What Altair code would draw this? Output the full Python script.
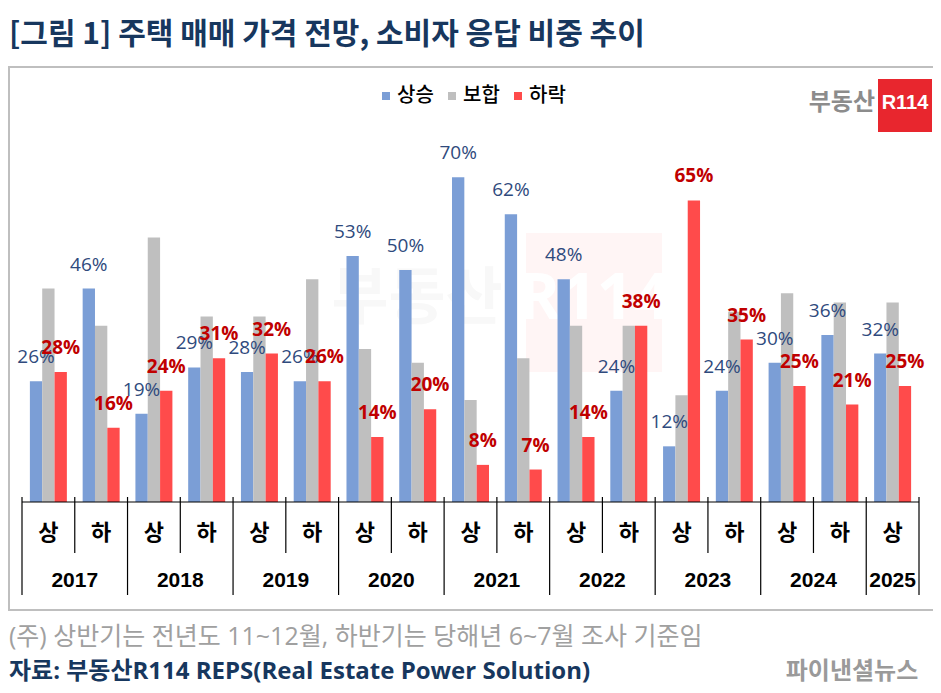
import altair as alt
import pandas as pd

# ---- data ----
years = ["2017", "2017", "2018", "2018", "2019", "2019", "2020", "2020", "2021", "2021",
         "2022", "2022", "2023", "2023", "2024", "2024", "2025"]
halves = ["상", "하", "상", "하", "상", "하", "상", "하", "상", "하",
          "상", "하", "상", "하", "상", "하", "상"]
up = [26, 46, 19, 29, 28, 26, 53, 50, 70, 62, 48, 24, 12, 24, 30, 36, 32]      # 상승
flat = [46, 38, 57, 40, 40, 48, 33, 30, 22, 31, 38, 38, 23, 41, 45, 43, 43]    # 보합
down = [28, 16, 24, 31, 32, 26, 14, 20, 8, 7, 14, 38, 65, 35, 25, 21, 25]      # 하락
series_names = ["상승", "보합", "하락"]
series_colors = ["#7B9ED6", "#BFBFBF", "#FF4B4B"]

title_text = "[그림 1] 주택 매매 가격 전망, 소비자 응답 비중 추이"
note_text = "(주) 상반기는 전년도 11~12월, 하반기는 당해년 6~7월 조사 기준임"
source_text = "자료: 부동산R114 REPS(Real Estate Power Solution)"

periods = [y + h for y, h in zip(years, halves)]

rows = []
for i, p in enumerate(periods):
    for s, vals in zip(series_names, [up, flat, down]):
        rows.append({"period": p, "year": years[i], "half": halves[i],
                     "series": s, "value": vals[i], "label": f"{vals[i]}%"})
df = pd.DataFrame(rows)
cats = pd.DataFrame({"period": periods, "year": years, "half": halves})
one = pd.DataFrame({"a": [0]})

W, H = 897, 348
KR = "Noto Sans CJK KR"
LAT = "Open Sans, Noto Sans CJK KR"

xscale = alt.Scale(domain=periods, paddingInner=0, paddingOuter=0)
offscale = alt.Scale(domain=series_names, paddingInner=0, paddingOuter=0.64)
yscale = alt.Scale(domain=[0, 75])

def X(bp=0.5):
    return alt.X("period:N", scale=xscale, axis=None, sort=periods, bandPosition=bp)

# frame box
box = alt.Chart(one).mark_rect(fill=None, stroke="#BFBFBF", strokeWidth=2).encode(
    x=alt.value(-13), x2=alt.value(913), y=alt.value(-87), y2=alt.value(456))

# faint watermark
wm_rect = alt.Chart(one).mark_rect(fill="#FFF5F5").encode(
    x=alt.value(504), x2=alt.value(640), y=alt.value(79), y2=alt.value(218))
wm_txt1 = alt.Chart(one).mark_text(text="부동산", font=KR, fontSize=62, fontWeight="bold",
                                   color="#F8F8F8", baseline="middle").encode(
    x=alt.value(395), y=alt.value(146))
wm_txt2 = alt.Chart(one).mark_text(text="R114", font=LAT, fontSize=64, fontWeight="bold",
                                   color="#FFFFFF", baseline="middle").encode(
    x=alt.value(572), y=alt.value(146))

bars = alt.Chart(df).mark_bar().encode(
    x=X(),
    xOffset=alt.XOffset("series:N", scale=offscale, sort=series_names),
    y=alt.Y("value:Q", scale=yscale, axis=None),
    color=alt.Color("series:N", sort=series_names,
                    scale=alt.Scale(domain=series_names, range=series_colors),
                    legend=alt.Legend(orient="none", legendX=354, legendY=-68,
                                      direction="horizontal", title=None,
                                      symbolType="square", symbolSize=64,
                                      symbolStrokeWidth=0, labelFontSize=20,
                                      labelFont=KR, labelColor="#000000",
                                      labelFontWeight=500,
                                      labelOffset=1, columnPadding=8)),
)

def value_labels(name, color, weight):
    return alt.Chart(df).transform_filter(alt.datum.series == name).mark_text(
        font=LAT, fontSize=19, fontWeight=weight, color=color,
        baseline="middle", dy=-24).encode(
        x=X(),
        xOffset=alt.XOffset("series:N", scale=offscale, sort=series_names),
        y=alt.Y("value:Q", scale=yscale, axis=None),
        text="label:N")

lab_up = value_labels("상승", "#2F4A7D", 500)
lab_down = value_labels("하락", "#C00000", "bold")

axis_line = alt.Chart(one).mark_rule(color="#000000", strokeWidth=1.2).encode(
    x=alt.value(0), x2=alt.value(W), y=alt.value(H))

short_sep = alt.Chart(cats).transform_filter(alt.datum.half == "하").mark_rule(
    color="#000000", strokeWidth=1.2).encode(
    x=X(0), y=alt.value(H - 5), y2=alt.value(H + 51))
long_sep = alt.Chart(cats).transform_filter(alt.datum.half == "상").mark_rule(
    color="#000000", strokeWidth=1.2).encode(
    x=X(0), y=alt.value(H - 5), y2=alt.value(H + 93))
end_sep = alt.Chart(cats).transform_filter(alt.datum.period == periods[-1]).mark_rule(
    color="#000000", strokeWidth=1.2).encode(
    x=X(1), y=alt.value(H - 5), y2=alt.value(H + 93))

half_lab = alt.Chart(cats).mark_text(font=KR, fontSize=22, fontWeight="bold",
                                     color="#000000", baseline="middle").encode(
    x=X(), y=alt.value(H + 31), text="half:N")
year_lab = alt.Chart(cats).transform_filter(alt.datum.half == "하").mark_text(
    font="Liberation Sans", fontSize=21, fontWeight="bold", color="#000000",
    baseline="middle").encode(x=X(0), y=alt.value(H + 79), text="year:N")
year_last = alt.Chart(cats).transform_filter(alt.datum.period == periods[-1]).mark_text(
    font="Liberation Sans", fontSize=21, fontWeight="bold", color="#000000",
    baseline="middle").encode(x=X(), y=alt.value(H + 79), text="year:N")

title = alt.Chart(one).mark_text(text=title_text, font=KR, fontSize=30, fontWeight="bold",
                                 color="#17375E", align="left", baseline="middle").encode(
    x=alt.value(-13), y=alt.value(-119))
note = alt.Chart(one).mark_text(text=note_text, font=LAT, fontSize=25,
                                color="#A0A0A0", align="left", baseline="middle").encode(
    x=alt.value(-13), y=alt.value(483))
source = alt.Chart(one).mark_text(text=source_text, font=LAT, fontSize=24, fontWeight="bold",
                                  color="#17375E", align="left", baseline="middle").encode(
    x=alt.value(-13), y=alt.value(518))

logo_box = alt.Chart(one).mark_rect(fill="#E8262E").encode(
    x=alt.value(856), x2=alt.value(910), y=alt.value(-75), y2=alt.value(-22))
logo_r = alt.Chart(one).mark_text(text="R114", font="Liberation Sans", fontSize=20,
                                  fontWeight="bold", color="#FFFFFF", baseline="middle").encode(
    x=alt.value(883), y=alt.value(-51))
logo_txt = alt.Chart(one).mark_text(text="부동산", font=KR, fontSize=24, fontWeight="bold",
                                    color="#8C8C8C", align="right", baseline="middle").encode(
    x=alt.value(853), y=alt.value(-51))
fn_logo = alt.Chart(one).mark_text(text="파이낸셜뉴스", font=KR, fontSize=24, fontWeight="bold",
                                   color="#9A9A9A", align="center", baseline="middle").encode(
    x=alt.value(830), y=alt.value(518))

chart = alt.layer(
    box, wm_txt1, wm_rect, wm_txt2, bars, lab_up, lab_down, axis_line,
    short_sep, long_sep, end_sep, half_lab, year_lab, year_last,
    title, note, source, logo_box, logo_r, logo_txt, fn_logo
).properties(
    width=W, height=H,
    padding={"left": 14, "top": 146, "right": 14, "bottom": 187},
    autosize=alt.AutoSizeParams(type="none"),
    background="#FFFFFF",
).configure_view(stroke=None)

chart.save("out.html", embed_options={"renderer": "svg", "actions": False})
